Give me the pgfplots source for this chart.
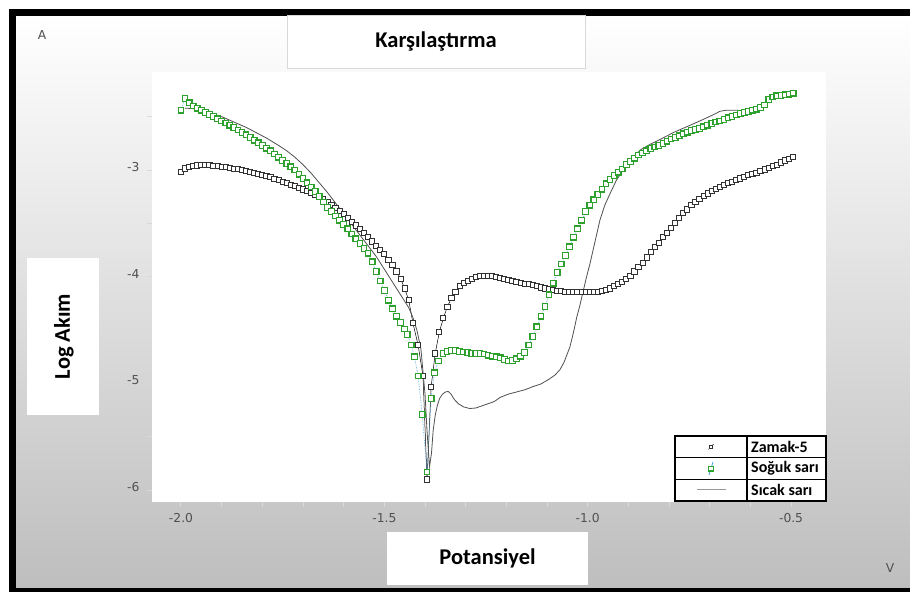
\documentclass[border=0pt]{standalone}
\usepackage{pgfplots}
\pgfplotsset{compat=1.18}
\usepackage{fontspec}
\setmainfont{Carlito}
\newfontfamily\dejavu{DejaVu Sans}
\definecolor{zgray}{RGB}{50,50,50}
\definecolor{sgreen}{RGB}{45,160,45}
\definecolor{sblue}{RGB}{70,160,220}
\definecolor{hgray}{RGB}{80,80,80}
\definecolor{tickc}{RGB}{80,80,80}
\definecolor{bgbot}{RGB}{190,190,190}
\newcommand{\bigbold}{\fontsize{22.5}{26}\selectfont\bfseries}
\begin{document}
\begin{tikzpicture}[x=1pt,y=1pt]
\fill[white] (0,0) rectangle (910,592);
\shade[top color=white, bottom color=bgbot] (16,4) rectangle (910,576);
\fill[black] (9,0) rectangle (16,583);
\fill[black] (9,576) rectangle (910,583);
\fill[black] (9,0) rectangle (910,4);
% boxes
\filldraw[fill=white, draw=black!15, line width=0.8pt] (287,524) rectangle (585,577);
\node[font=\bigbold] at (436,550.5) {Karşılaştırma};
\filldraw[fill=white, draw=none] (27,177) rectangle (99,334);
\node[font=\bigbold, rotate=90] at (64,255.5) {Log Akım};
\filldraw[fill=white, draw=none] (387,7) rectangle (588,60);
\node[font=\bigbold] at (487.5,33.5) {Potansiyel};
\node[font=\dejavu\fontsize{12.3}{14}\selectfont, text=tickc] at (42,557) {A};
\node[font=\dejavu\fontsize{12.3}{14}\selectfont, text=tickc] at (890,24) {V};
\begin{axis}[
  at={(152pt,90pt)}, anchor=south west,
  scale only axis, width=674pt, height=430pt,
  xmin=-2.0713, xmax=-0.4141, ymin=-6.111, ymax=-2.0815,
  axis background/.style={fill=white},
  axis x line*=bottom, axis y line*=left,
  axis line style={draw=none},
  xtick={-2,-1.5,-1,-0.5}, xticklabels={-2.0,-1.5,-1.0,-0.5},
  minor xtick={-1.9,-1.8,-1.7,-1.6,-1.4,-1.3,-1.2,-1.1,-0.9,-0.8,-0.7,-0.6},
  ytick={-6,-5,-4,-3}, yticklabels={-6,-5,-4,-3},
  minor ytick={-5.5,-4.5,-3.5,-2.5},
  tick align=outside, major tick length=5pt, minor tick length=5pt,
  every tick/.style={color=white!85!black, line width=1pt},
  ticklabel style={font=\dejavu\fontsize{12.3}{14}\selectfont, text=tickc},
  xticklabel style={yshift=-3pt},
  yticklabel style={xshift=-4pt, yshift=3pt},
  clip=false,
]
\addplot[black, line width=0.5pt, mark=square*, mark size=2.6pt,
  mark options={draw=zgray, fill=white, line width=0.95pt, solid}]
table {
-2.00 -3.02
-1.99 -2.985
-1.98 -2.97
-1.97 -2.962
-1.96 -2.957
-1.95 -2.954
-1.94 -2.954
-1.93 -2.956
-1.92 -2.960
-1.91 -2.964
-1.90 -2.969
-1.89 -2.975
-1.88 -2.981
-1.87 -2.987
-1.86 -2.994
-1.85 -3.001
-1.84 -3.009
-1.83 -3.017
-1.82 -3.026
-1.81 -3.035
-1.80 -3.045
-1.79 -3.056
-1.78 -3.068
-1.77 -3.081
-1.76 -3.095
-1.75 -3.11
-1.74 -3.123
-1.73 -3.137
-1.72 -3.151
-1.71 -3.166
-1.70 -3.182
-1.69 -3.199
-1.68 -3.217
-1.67 -3.236
-1.66 -3.256
-1.65 -3.277
-1.64 -3.30
-1.63 -3.325
-1.62 -3.355
-1.61 -3.385
-1.60 -3.415
-1.59 -3.45
-1.58 -3.485
-1.57 -3.52
-1.56 -3.555
-1.55 -3.59
-1.54 -3.63
-1.53 -3.67
-1.52 -3.71
-1.51 -3.75
-1.50 -3.79
-1.49 -3.84
-1.48 -3.89
-1.47 -3.95
-1.46 -4.02
-1.45 -4.11
-1.44 -4.22
-1.43 -4.43
-1.417 -4.64
-1.405 -4.93
-1.395 -5.90
-1.385 -5.03
-1.375 -4.72
-1.365 -4.52
-1.355 -4.39
-1.345 -4.28
-1.335 -4.20
-1.325 -4.14
-1.315 -4.09
-1.305 -4.06
-1.295 -4.04
-1.285 -4.02
-1.275 -4.005
-1.265 -3.995
-1.255 -3.99
-1.245 -3.99
-1.235 -3.995
-1.225 -4.00
-1.215 -4.01
-1.205 -4.02
-1.195 -4.03
-1.185 -4.04
-1.175 -4.05
-1.165 -4.06
-1.155 -4.065
-1.145 -4.07
-1.135 -4.08
-1.125 -4.09
-1.115 -4.10
-1.105 -4.11
-1.095 -4.12
-1.085 -4.125
-1.075 -4.13
-1.065 -4.135
-1.055 -4.14
-1.045 -4.14
-1.035 -4.145
-1.025 -4.145
-1.015 -4.145
-1.005 -4.145
-0.995 -4.145
-0.985 -4.145
-0.975 -4.14
-0.965 -4.135
-0.955 -4.125
-0.945 -4.11
-0.935 -4.09
-0.925 -4.07
-0.915 -4.05
-0.905 -4.02
-0.895 -3.99
-0.885 -3.95
-0.875 -3.91
-0.865 -3.87
-0.855 -3.82
-0.845 -3.77
-0.835 -3.72
-0.825 -3.68
-0.815 -3.63
-0.805 -3.59
-0.795 -3.545
-0.785 -3.50
-0.775 -3.45
-0.765 -3.40
-0.755 -3.37
-0.745 -3.33
-0.735 -3.30
-0.725 -3.27
-0.715 -3.245
-0.705 -3.22
-0.695 -3.20
-0.685 -3.175
-0.675 -3.16
-0.665 -3.14
-0.655 -3.125
-0.645 -3.11
-0.635 -3.095
-0.625 -3.08
-0.615 -3.065
-0.605 -3.05
-0.595 -3.04
-0.585 -3.025
-0.575 -3.01
-0.565 -2.995
-0.555 -2.98
-0.545 -2.965
-0.535 -2.95
-0.525 -2.93
-0.515 -2.91
-0.505 -2.895
-0.495 -2.88
};
\addplot[sblue, densely dotted, line width=0.6pt, mark=square*, mark size=2.8pt,
  mark options={draw=sgreen, fill=white, line width=1.2pt, solid}]
table {
-2.00 -2.44
-1.99 -2.33
-1.98 -2.37
-1.97 -2.40
-1.96 -2.42
-1.95 -2.44
-1.94 -2.46
-1.93 -2.48
-1.92 -2.50
-1.91 -2.52
-1.90 -2.54
-1.89 -2.56
-1.88 -2.58
-1.87 -2.60
-1.86 -2.625
-1.85 -2.65
-1.84 -2.67
-1.83 -2.695
-1.82 -2.72
-1.81 -2.745
-1.80 -2.77
-1.79 -2.795
-1.78 -2.82
-1.77 -2.85
-1.76 -2.88
-1.75 -2.91
-1.74 -2.94
-1.73 -2.97
-1.72 -3.00
-1.71 -3.04
-1.70 -3.08
-1.69 -3.12
-1.68 -3.16
-1.67 -3.20
-1.66 -3.25
-1.65 -3.30
-1.64 -3.35
-1.63 -3.39
-1.62 -3.43
-1.61 -3.47
-1.60 -3.51
-1.59 -3.55
-1.58 -3.60
-1.57 -3.645
-1.56 -3.69
-1.55 -3.735
-1.54 -3.78
-1.53 -3.86
-1.52 -3.95
-1.51 -4.04
-1.50 -4.13
-1.49 -4.22
-1.48 -4.30
-1.47 -4.37
-1.46 -4.43
-1.45 -4.49
-1.444 -4.54
-1.434 -4.64
-1.426 -4.75
-1.417 -4.93
-1.407 -5.29
-1.395 -5.83
-1.385 -5.14
-1.377 -4.90
-1.367 -4.79
-1.356 -4.72
-1.346 -4.70
-1.336 -4.69
-1.325 -4.69
-1.315 -4.70
-1.305 -4.705
-1.295 -4.71
-1.285 -4.72
-1.275 -4.72
-1.265 -4.72
-1.255 -4.725
-1.245 -4.735
-1.235 -4.745
-1.225 -4.75
-1.215 -4.76
-1.205 -4.775
-1.195 -4.79
-1.185 -4.785
-1.175 -4.77
-1.165 -4.745
-1.155 -4.71
-1.145 -4.64
-1.135 -4.56
-1.125 -4.47
-1.115 -4.37
-1.105 -4.28
-1.095 -4.17
-1.085 -4.06
-1.075 -3.96
-1.065 -3.88
-1.055 -3.80
-1.045 -3.72
-1.035 -3.63
-1.025 -3.55
-1.015 -3.47
-1.005 -3.39
-0.995 -3.33
-0.985 -3.28
-0.975 -3.23
-0.965 -3.18
-0.955 -3.13
-0.945 -3.09
-0.935 -3.05
-0.925 -3.02
-0.915 -2.99
-0.905 -2.95
-0.895 -2.92
-0.885 -2.89
-0.875 -2.86
-0.865 -2.84
-0.855 -2.82
-0.845 -2.80
-0.835 -2.785
-0.825 -2.77
-0.815 -2.75
-0.805 -2.73
-0.795 -2.71
-0.785 -2.695
-0.775 -2.68
-0.765 -2.66
-0.755 -2.645
-0.745 -2.63
-0.735 -2.62
-0.725 -2.61
-0.715 -2.595
-0.705 -2.58
-0.695 -2.565
-0.685 -2.55
-0.675 -2.54
-0.665 -2.525
-0.655 -2.51
-0.645 -2.50
-0.635 -2.485
-0.625 -2.47
-0.615 -2.46
-0.605 -2.45
-0.595 -2.44
-0.585 -2.43
-0.575 -2.415
-0.565 -2.39
-0.555 -2.34
-0.545 -2.315
-0.535 -2.305
-0.525 -2.30
-0.515 -2.295
-0.505 -2.29
-0.495 -2.28
};
\addplot[hgray, line width=0.8pt, no marks]
table {
-1.99 -2.42
-1.97 -2.425
-1.95 -2.44
-1.92 -2.475
-1.90 -2.50
-1.87 -2.55
-1.84 -2.60
-1.82 -2.64
-1.79 -2.70
-1.76 -2.77
-1.74 -2.82
-1.72 -2.88
-1.70 -2.95
-1.68 -3.03
-1.66 -3.12
-1.64 -3.21
-1.62 -3.31
-1.60 -3.41
-1.58 -3.51
-1.56 -3.61
-1.54 -3.71
-1.52 -3.81
-1.50 -3.93
-1.48 -4.05
-1.46 -4.17
-1.44 -4.29
-1.43 -4.38
-1.42 -4.50
-1.41 -4.68
-1.40 -5.10
-1.395 -5.45
-1.389 -5.78
-1.384 -5.65
-1.380 -5.44
-1.375 -5.30
-1.370 -5.21
-1.364 -5.14
-1.357 -5.10
-1.350 -5.08
-1.343 -5.075
-1.336 -5.10
-1.328 -5.15
-1.318 -5.19
-1.305 -5.22
-1.290 -5.235
-1.275 -5.23
-1.260 -5.21
-1.245 -5.19
-1.230 -5.17
-1.215 -5.13
-1.195 -5.10
-1.175 -5.08
-1.155 -5.06
-1.135 -5.03
-1.115 -5.005
-1.095 -4.96
-1.080 -4.92
-1.068 -4.87
-1.058 -4.80
-1.050 -4.72
-1.044 -4.66
-1.038 -4.57
-1.032 -4.47
-1.027 -4.38
-1.020 -4.28
-1.012 -4.15
-1.004 -4.02
-0.994 -3.87
-0.982 -3.67
-0.970 -3.47
-0.958 -3.33
-0.945 -3.22
-0.930 -3.10
-0.913 -3.00
-0.890 -2.89
-0.870 -2.81
-0.847 -2.76
-0.820 -2.71
-0.790 -2.65
-0.760 -2.60
-0.730 -2.55
-0.707 -2.51
-0.690 -2.48
-0.675 -2.45
-0.660 -2.44
-0.633 -2.44
-0.615 -2.45
-0.601 -2.46
};
\end{axis}
% legend (table)
\fill[white] (675,91) rectangle (826,156);
\draw[black, line width=0.5pt] (708.5,142.6) -- (713.5,147.8);
\filldraw[fill=white, draw=zgray, line width=0.6pt] (709.5,143.7) rectangle (712.5,146.7);
\draw[sblue, line width=0.8pt] (709,117) -- (713,130);
\filldraw[fill=white, draw=sgreen, line width=1.2pt] (708.6,121.1) rectangle (713.4,125.9);
\draw[gray!80, line width=1pt] (697,102.8) -- (726,102.8);
\node[anchor=west, font=\fontsize{16}{19}\selectfont\bfseries, inner sep=0pt] at (751,145.17) {Zamak-5};
\node[anchor=west, font=\fontsize{16}{19}\selectfont\bfseries, inner sep=0pt] at (751,123.5) {Soğuk sarı};
\node[anchor=west, font=\fontsize{16}{19}\selectfont\bfseries, inner sep=0pt] at (751,101.83) {Sıcak sarı};
\draw[black, line width=1.3pt] (675,91) rectangle (826,156);
\draw[black, line width=1.3pt] (747,91) -- (747,156);
\draw[black, line width=1.3pt] (675,134.33) -- (826,134.33);
\draw[black, line width=1.3pt] (675,112.67) -- (826,112.67);
\pgfresetboundingbox
\useasboundingbox (0,0) rectangle (910,592);
\end{tikzpicture}
\end{document}
